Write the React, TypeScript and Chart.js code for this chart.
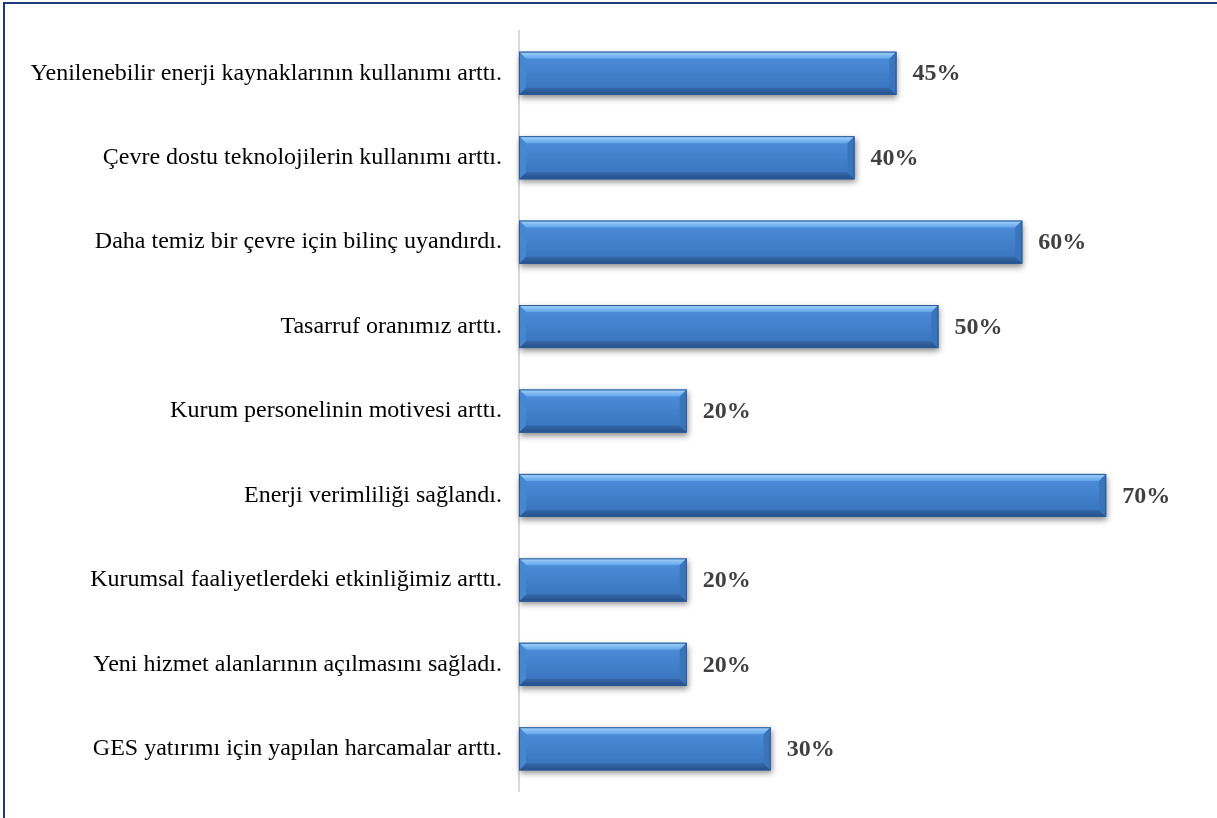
import React, { useEffect, useRef } from "react";
import { Chart, registerables } from "chart.js";

Chart.register(...registerables);

const categories: string[] = [
  "Yenilenebilir enerji kaynaklarının kullanımı arttı.",
  "Çevre dostu teknolojilerin kullanımı arttı.",
  "Daha temiz bir çevre için bilinç uyandırdı.",
  "Tasarruf oranımız arttı.",
  "Kurum personelinin motivesi arttı.",
  "Enerji verimliliği sağlandı.",
  "Kurumsal faaliyetlerdeki etkinliğimiz arttı.",
  "Yeni hizmet alanlarının açılmasını sağladı.",
  "GES yatırımı için yapılan harcamalar arttı.",
];
const values: number[] = [45, 40, 60, 50, 20, 70, 20, 20, 30];
const axisMax = 80;

const bevelPlugin = {
  id: "bevelBars",
  beforeDatasetsDraw(chart: any) {
    const ctx = chart.ctx;
    const meta = chart.getDatasetMeta(0);
    ctx.save();
    meta.data.forEach((bar: any) => {
      const { x, y, base, height } = bar.getProps(["x", "y", "base", "height"], true);
      ctx.shadowColor = "rgba(0,0,0,0.45)";
      ctx.shadowBlur = 6;
      ctx.shadowOffsetX = 1;
      ctx.shadowOffsetY = 3;
      ctx.fillStyle = "#3a76be";
      ctx.fillRect(base, y - height / 2, x - base, height);
    });
    ctx.restore();
  },
  afterDatasetsDraw(chart: any) {
    const ctx = chart.ctx;
    const meta = chart.getDatasetMeta(0);
    ctx.save();
    meta.data.forEach((bar: any, i: number) => {
      const { x, y, base, height } = bar.getProps(["x", "y", "base", "height"], true);
      const x0 = base, x1 = x, y0 = y - height / 2, y1 = y + height / 2;
      const b = 7;
      const poly = (pts: number[][], fill: any) => {
        ctx.beginPath();
        ctx.moveTo(pts[0][0], pts[0][1]);
        for (let k = 1; k < pts.length; k++) ctx.lineTo(pts[k][0], pts[k][1]);
        ctx.closePath();
        ctx.fillStyle = fill;
        ctx.fill();
      };
      const body = ctx.createLinearGradient(0, y0, 0, y1);
      body.addColorStop(0, "#4d8fdb");
      body.addColorStop(1, "#3872bb");
      poly([[x0, y0], [x1, y0], [x1, y1], [x0, y1]], body);
      const top = ctx.createLinearGradient(0, y0, 0, y0 + b);
      top.addColorStop(0, "#a4d4fb");
      top.addColorStop(1, "#62a4ea");
      poly([[x0, y0], [x1, y0], [x1 - b, y0 + b], [x0 + b, y0 + b]], top);
      const bot = ctx.createLinearGradient(0, y1 - b, 0, y1);
      bot.addColorStop(0, "#3468aa");
      bot.addColorStop(1, "#254f88");
      poly([[x0, y1], [x1, y1], [x1 - b, y1 - b], [x0 + b, y1 - b]], bot);
      poly([[x0, y0], [x0 + b, y0 + b], [x0 + b, y1 - b], [x0, y1]], "#4687d2");
      poly([[x1, y0], [x1 - b, y0 + b], [x1 - b, y1 - b], [x1, y1]], "#3a74bb");
      ctx.strokeStyle = "#2b5a95";
      ctx.lineWidth = 1;
      ctx.strokeRect(x0 + 0.5, y0 + 0.5, x1 - x0 - 1, y1 - y0 - 1);
      ctx.fillStyle = "#404040";
      ctx.font = "bold 24px 'Liberation Serif', 'Times New Roman', serif";
      ctx.textAlign = "left";
      ctx.textBaseline = "middle";
      ctx.fillText(values[i] + "%", x1 + 16, y + 1);
    });
    ctx.restore();
  },
};

const framePlugin = {
  id: "frame",
  afterDraw(chart: any) {
    const ctx = chart.ctx;
    ctx.save();
    ctx.strokeStyle = "#1f3a78";
    ctx.lineWidth = 2;
    ctx.beginPath();
    ctx.moveTo(4, 818);
    ctx.lineTo(4, 3);
    ctx.lineTo(1217, 3);
    ctx.stroke();
    ctx.restore();
  },
};

export default function App() {
  const ref = useRef<HTMLCanvasElement>(null);
  useEffect(() => {
    document.body.style.margin = "0";
    const chart = new Chart(ref.current!, {
      type: "bar",
      data: {
        labels: categories,
        datasets: [
          {
            data: values,
            backgroundColor: "rgba(0,0,0,0)",
            borderWidth: 0,
            categoryPercentage: 1,
            barPercentage: 0.51,
          },
        ],
      },
      options: {
        indexAxis: "y",
        animation: false,
        responsive: false,
        layout: { padding: { left: 0, right: 27, top: 31, bottom: 27 } },
        plugins: { legend: { display: false }, tooltip: { enabled: false } },
        scales: {
          x: { min: 0, max: axisMax, display: false },
          y: {
            afterFit(scale: any) {
              scale.width = 519;
              scale.paddingTop = 0;
              scale.paddingBottom = 0;
            },
            grid: { display: false, drawTicks: false },
            border: { display: true, color: "#d9d9d9", width: 2 },
            ticks: {
              color: "#000",
              padding: 17,
              font: { family: "'Liberation Serif', 'Times New Roman', serif", size: 24 },
            },
          },
        },
      },
      plugins: [bevelPlugin, framePlugin],
    });
    return () => chart.destroy();
  }, []);
  return <canvas ref={ref} width={1217} height={818} style={{ display: "block" }} />;
}
